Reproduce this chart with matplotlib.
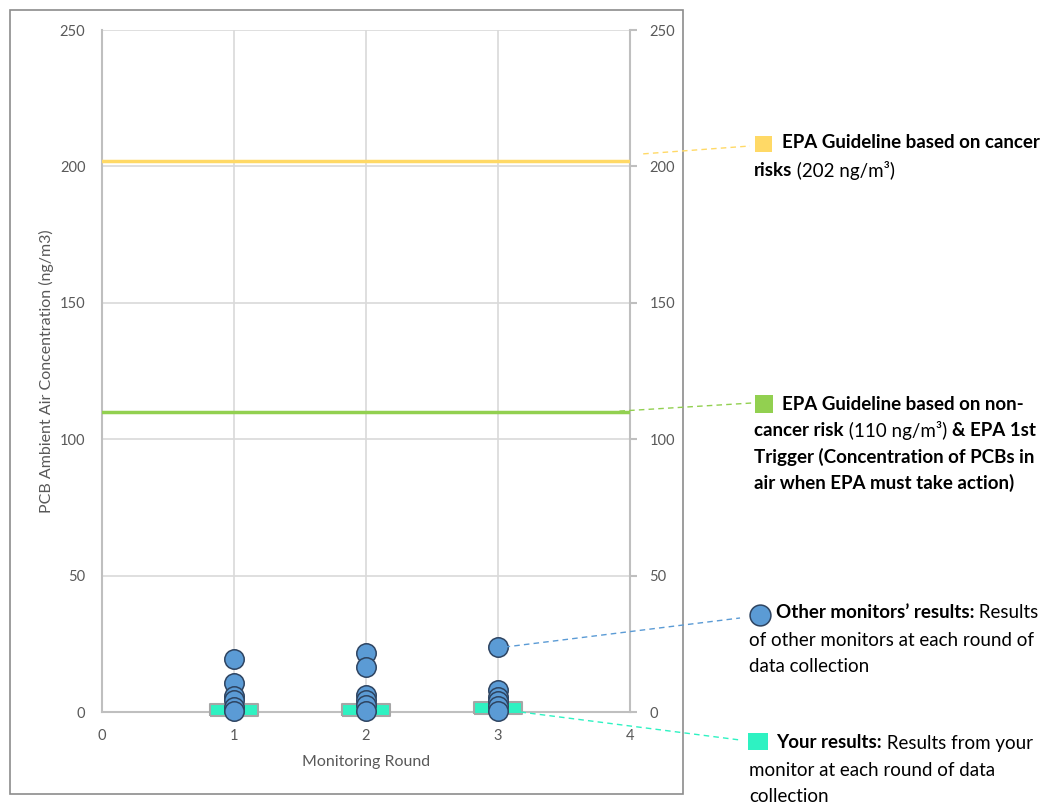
import matplotlib
matplotlib.use("Agg")
import matplotlib.pyplot as plt
from matplotlib.patches import Rectangle

plt.rcParams['font.family'] = ['Lato', 'DejaVu Sans']

# ---- data ----
rounds = [1, 2, 3]
other_r1 = [19.5, 10.6, 5.9, 4.4, 2.0, 0.5]
other_r2 = [21.6, 16.5, 6.2, 4.5, 2.6, 0.5]
other_r3 = [23.8, 8.2, 5.5, 4.0, 2.2, 0.5]
your_results = [0.8, 0.8, 1.6]
cancer_guideline = 202
noncancer_guideline = 110
y_ticks = [0, 50, 100, 150, 200, 250]
x_ticks = [0, 1, 2, 3, 4]

W, H = 1046, 802
fig = plt.figure(figsize=(W / 100, H / 100), dpi=100)

# outer chart frame
fig.add_artist(Rectangle((10 / W, 1 - 794 / H), 673 / W, 784 / H, transform=fig.transFigure,
                         fill=False, edgecolor='#8C8C8C', linewidth=1.2))

ax = fig.add_axes([102 / W, 1 - 712 / H, 528 / W, 682 / H])
ax.set_xlim(0, 4)
ax.set_ylim(0, 250)
ax.set_xticks(x_ticks)
ax.set_yticks(y_ticks)
ax.grid(True, color='#D9D9D9', linewidth=1.2)
ax.set_axisbelow(True)
ax.spines['top'].set_visible(False)
for s in ['left', 'right', 'bottom']:
    ax.spines[s].set_color('#BFBFBF')
    ax.spines[s].set_linewidth(1.5)
ax.tick_params(axis='both', colors='#595959', labelsize=10.5, length=0)
ax.tick_params(axis='y', pad=12)
ax.tick_params(axis='x', pad=12)
ax.set_xlabel('Monitoring Round', color='#595959', fontsize=11.5, labelpad=9)
ax.set_ylabel('PCB Ambient Air Concentration (ng/m3)', color='#595959', fontsize=11.5, labelpad=4)

axr = ax.twinx()
axr.set_ylim(0, 250)
axr.set_yticks(y_ticks)
for s in ['top', 'left', 'bottom', 'right']:
    axr.spines[s].set_visible(False)
axr.tick_params(axis='y', colors='#595959', labelsize=10.5, length=5, width=1.5, pad=9)
axr.tick_params(axis='y', color='#BFBFBF')

# guideline lines
ax.axhline(cancer_guideline, color='#FFD966', linewidth=2.5, zorder=3)
ax.axhline(noncancer_guideline, color='#92D050', linewidth=2.5, zorder=3)

# your results (wide rectangle marker)
rect_marker = [(-2, -0.5), (2, -0.5), (2, 0.5), (-2, 0.5), (-2, -0.5)]
ax.scatter(rounds, your_results, marker=rect_marker, s=34 ** 2, facecolor='#2EF2C2',
           edgecolor='#A6A6A6', linewidth=1.5, zorder=4, clip_on=False)

# other monitors
for r, vals in zip(rounds, [other_r1, other_r2, other_r3]):
    ax.scatter([r] * len(vals), vals, s=14 ** 2, facecolor='#5B9BD5', edgecolor='#2E4461',
               linewidth=1.1, zorder=5, clip_on=False)

# overlay for annotations in pixel coordinates
ov = fig.add_axes([0, 0, 1, 1], zorder=10)
ov.set_xlim(0, W)
ov.set_ylim(H, 0)
ov.axis('off')
ov.patch.set_alpha(0)

fig.canvas.draw()


def to_px(x, y):
    dx, dy = ax.transData.transform((x, y))
    return dx, H - dy


def leader(xy_data, end_px, color):
    sx, sy = to_px(*xy_data)
    ov.plot([sx, end_px[0]], [sy, end_px[1]], color=color, linestyle=(0, (4, 3)), linewidth=1)


leader((4.1, 204.6), (750, 146), '#FFD966')
leader((3.92, 110.3), (752, 403), '#92D050')
leader((3.05, 23.8), (740, 618), '#5B9BD5')
leader((3.17, 0), (740, 740), '#2EF2C2')

# legend keys
ov.add_patch(Rectangle((755, 136), 17, 16, facecolor='#FFD966', edgecolor='none'))
ov.add_patch(Rectangle((755, 395), 18, 18, facecolor='#92D050', edgecolor='none'))
ov.plot([760], [615], marker='o', markersize=15, markerfacecolor='#5B9BD5',
        markeredgecolor='#2E4461', markeredgewidth=1.1)
ov.add_patch(Rectangle((748, 733), 20, 17, facecolor='#2EF2C2', edgecolor='none'))

renderer = fig.canvas.get_renderer()
FS = 13.5


def rich(x, y, segs):
    cx = x
    for txt, wt in segs:
        t = ov.text(cx, y, txt, fontsize=FS, fontweight=wt, color='black', va='center', ha='left')
        bb = t.get_window_extent(renderer=renderer)
        cx += bb.width


rich(782, 143, [('EPA Guideline based on cancer', 'bold')])
rich(754, 171, [('risks', 'bold'), (' (202 ng/m³)', 'normal')])

rich(782, 405, [('EPA Guideline based on non-', 'bold')])
rich(754, 431, [('cancer risk', 'bold'), (' (110 ng/m³) ', 'normal'), ('& EPA 1st', 'bold')])
rich(754, 457, [('Trigger (Concentration of PCBs in', 'bold')])
rich(754, 483, [('air when EPA must take action)', 'bold')])

rich(776, 613, [('Other monitors’ results:', 'bold'), (' Results', 'normal')])
rich(749, 640, [('of other monitors at each round of', 'normal')])
rich(749, 666, [('data collection', 'normal')])

rich(776, 743, [('Your results:', 'bold'), (' Results from your', 'normal')])
rich(749, 770, [('monitor at each round of data', 'normal')])
rich(749, 796, [('collection', 'normal')])

fig.savefig('out.png', dpi=100)
